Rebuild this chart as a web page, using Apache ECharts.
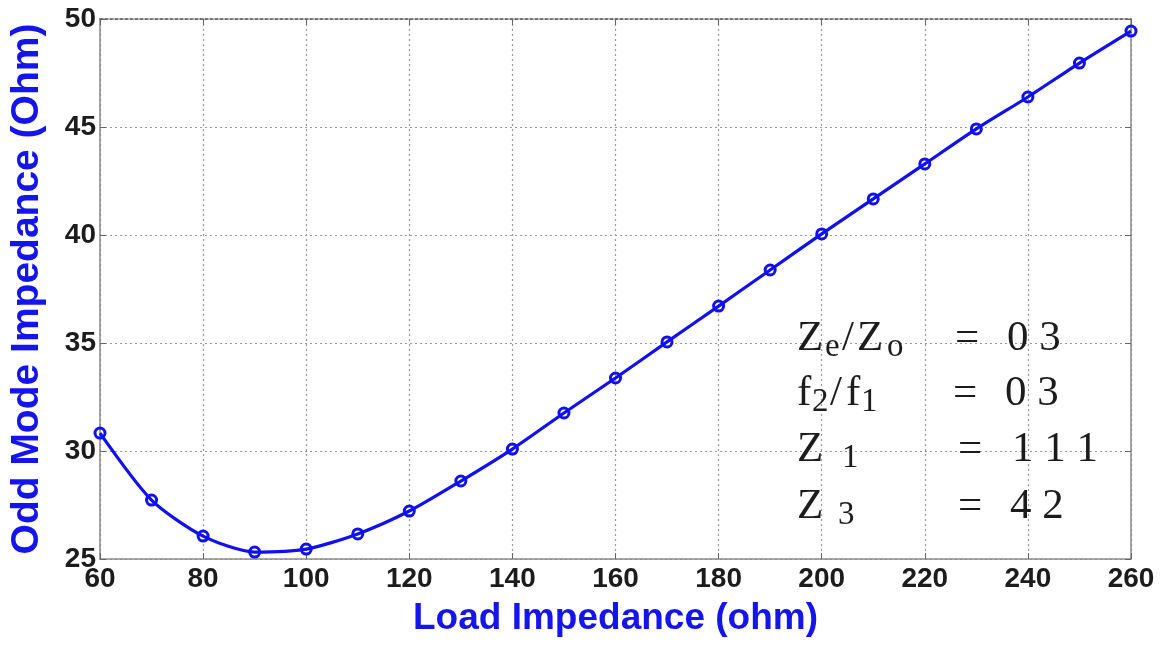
<!DOCTYPE html>
<html>
<head>
<meta charset="utf-8">
<script src="https://cdn.jsdelivr.net/npm/echarts@6/dist/echarts.min.js"></script>
<style>html,body{margin:0;padding:0;background:#fff}#chart{width:1162px;height:645px}</style>
</head>
<body>
<div id="chart"></div>
<script>
// Data
const loadImpedance = [60, 70, 80, 90, 100, 110, 120, 130, 140, 150, 160, 170, 180, 190, 200, 210, 220, 230, 240, 250, 260];
const oddModeImpedance = [30.83, 27.73, 26.06, 25.32, 25.46, 26.16, 27.22, 28.61, 30.09, 31.76, 33.38, 35.05, 36.71, 38.38, 40.05, 41.67, 43.29, 44.91, 46.39, 47.96, 49.44];
const xTitle = 'Load Impedance (ohm)';
const yTitle = 'Odd Mode Impedance (Ohm)';
const annotationLines = [
  {parts: [['Z', 0, 'n'], ['e', 28, 's'], ['/', 45, 'n'], ['Z', 60, 'n'], ['o', 90, 's']], eqX: 955, value: '0 3', valX: 1007, y: 339},
  {parts: [['f', 0, 'n'], ['2', 15, 's'], ['/', 33, 'n'], ['f', 49, 'n'], ['1', 64, 's']], eqX: 953, value: '0 3', valX: 1005, y: 394},
  {parts: [['Z', 0, 'n'], ['1', 45, 's']], eqX: 958, value: '1 1 1', valX: 1012, y: 450},
  {parts: [['Z', 0, 'n'], ['3', 41, 's']], eqX: 958, value: '4 2', valX: 1010, y: 507}
];

const chart = echarts.init(document.getElementById('chart'));
const serif = "'Liberation Serif', 'Times New Roman', serif";
const sans = "'Liberation Sans', Arial, sans-serif";
const textColor = '#1c1c1c';
const graphics = [];
const leftX = 797;
annotationLines.forEach(line => {
  line.parts.forEach(p => {
    const sub = p[2] === 's';
    graphics.push({
      type: 'text', x: leftX + p[1], y: line.y + (sub ? 8 : 0), z: 100,
      style: {text: p[0], fill: textColor, fontFamily: serif, fontSize: sub ? 33 : 43, textAlign: 'left', textVerticalAlign: 'middle'}
    });
  });
  graphics.push({type: 'text', x: line.eqX, y: line.y, z: 100,
    style: {text: '=', fill: textColor, fontFamily: serif, fontSize: 43, textAlign: 'left', textVerticalAlign: 'middle'}});
  graphics.push({type: 'text', x: line.valX, y: line.y, z: 100,
    style: {text: line.value, fill: textColor, fontFamily: serif, fontSize: 43, textAlign: 'left', textVerticalAlign: 'middle'}});
});

const gridLine = {show: true, lineStyle: {color: '#999', type: [2, 3], width: 1.2}};
chart.setOption({
  animation: false,
  backgroundColor: '#fff',
  grid: {left: 96, right: 31, top: 19, bottom: 86, containLabel: false},
  xAxis: [{
    type: 'value', min: 60, max: 260, interval: 20,
    name: xTitle, nameLocation: 'middle', nameGap: 41,
    nameTextStyle: {color: '#1414ee', fontSize: 37, fontWeight: 'bold', fontFamily: sans},
    axisLine: {show: true, onZero: false, lineStyle: {color: '#8a8a8a', width: 1.5}},
    axisTick: {show: true, inside: true, length: 6, lineStyle: {color: '#666'}},
    axisLabel: {color: textColor, fontSize: 28, fontWeight: 'bold', fontFamily: sans, margin: 6},
    splitLine: gridLine
  }, {
    type: 'value', min: 60, max: 260, interval: 20, position: 'top',
    axisLine: {show: true, onZero: false, lineStyle: {color: '#555', width: 1.5, type: [3, 2]}},
    axisTick: {show: true, inside: true, length: 6, lineStyle: {color: '#666'}},
    axisLabel: {show: false}, splitLine: {show: false}
  }],
  yAxis: [{
    type: 'value', min: 25, max: 50, interval: 5,
    name: yTitle, nameLocation: 'middle', nameGap: 53, nameRotate: 90,
    nameTextStyle: {color: '#1414ee', fontSize: 39, fontWeight: 'bold', fontFamily: sans},
    axisLine: {show: true, onZero: false, lineStyle: {color: '#8a8a8a', width: 1.5}},
    axisTick: {show: true, inside: true, length: 6, lineStyle: {color: '#666'}},
    axisLabel: {color: textColor, fontSize: 28, fontWeight: 'bold', fontFamily: sans, margin: 4},
    splitLine: gridLine
  }, {
    type: 'value', min: 25, max: 50, interval: 5, position: 'right',
    axisLine: {show: true, onZero: false, lineStyle: {color: '#8a8a8a', width: 1.5}},
    axisTick: {show: true, inside: true, length: 6, lineStyle: {color: '#666'}},
    axisLabel: {show: false}, splitLine: {show: false}
  }],
  series: [{
    type: 'line',
    data: loadImpedance.map((x, i) => [x, oddModeImpedance[i]]),
    smooth: 0.25,
    symbol: 'circle', symbolSize: 10,
    lineStyle: {color: '#1010f5', width: 3.2},
    itemStyle: {color: 'rgba(0,0,0,0)', borderColor: '#1010f5', borderWidth: 3},
    z: 5
  }],
  graphic: graphics
});
</script>
</body>
</html>
